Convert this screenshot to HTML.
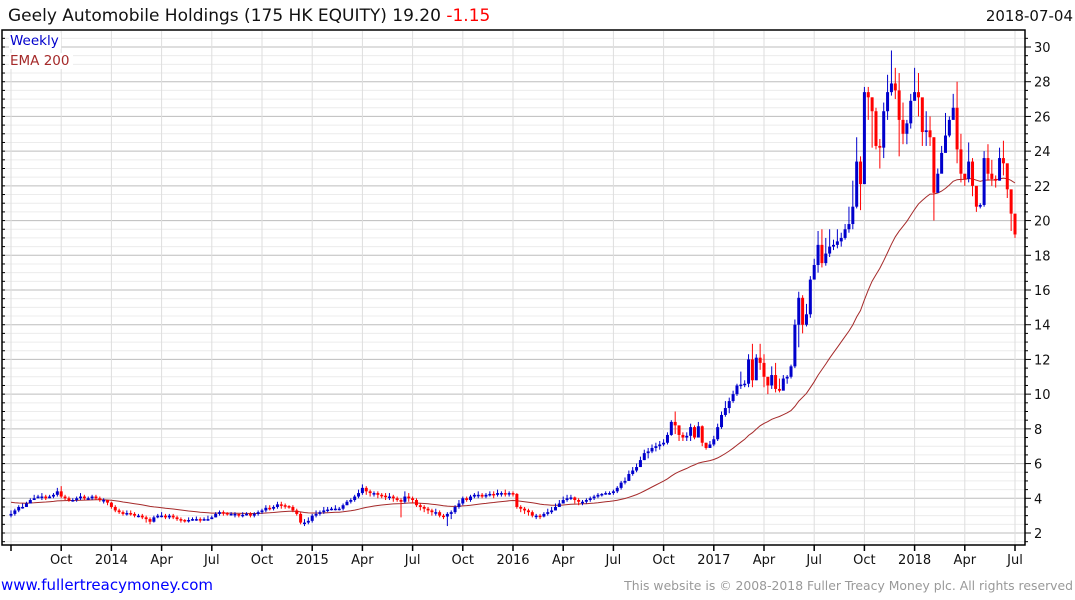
<!DOCTYPE html>
<html><head><meta charset="utf-8"><style>
html,body{margin:0;padding:0;background:#fff;width:1075px;height:600px;overflow:hidden}
svg{display:block;font-family:"DejaVu Sans","Liberation Sans",sans-serif}
</style></head><body>
<svg id="chart" width="1075" height="600">
<text x="8" y="21" font-size="17" fill="#111">Geely Automobile Holdings (175 HK EQUITY) 19.20 <tspan fill="#f00">-1.15</tspan></text>
<text x="1073" y="21" font-size="15" fill="#111" text-anchor="end">2018-07-04</text>
<g id="grid"></g><g id="ema"></g><g id="bars"></g>
<rect x="2" y="30" width="1023" height="515" fill="none" stroke="#000" stroke-width="1.5"/>
<g id="axes"></g>
<rect x="9" y="33" width="52" height="16" fill="#fff"/>
<text x="10" y="45" font-size="13.5" fill="#00c">Weekly</text>
<rect x="9" y="53" width="64" height="16" fill="#fff"/>
<text x="10" y="65" font-size="13.5" fill="#a52a2a">EMA 200</text>
<text x="1" y="590" font-size="15" fill="#00f">www.fullertreacymoney.com</text>
<text x="1073" y="590" font-size="12.4" fill="#999" text-anchor="end">This website is © 2008-2018 Fuller Treacy Money plc. All rights reserved</text>
</svg>
<script>
const closes=[3.1,3.3,3.5,3.5,3.7,3.9,4.0,4.1,4.1,4.0,4.1,4.2,4.4,4.1,
4.0,3.9,3.9,4.0,4.1,4.0,4.0,4.1,4.0,3.9,3.9,3.75,3.5,
3.3,3.2,3.1,3.15,3.1,3.0,3.0,2.9,2.8,2.65,2.9,3.0,3.0,
2.9,3.0,2.9,2.8,2.75,2.7,2.75,2.8,2.8,2.75,2.8,2.8,2.9,
3.1,3.2,3.15,3.1,3.1,3.1,3.0,3.05,3.1,3.0,3.1,3.2,3.3,
3.45,3.4,3.5,3.65,3.6,3.55,3.5,3.3,3.1,2.6,2.6,2.7,3.0,
3.1,3.2,3.3,3.35,3.4,3.4,3.4,3.6,3.8,3.9,4.1,4.3,4.6,
4.4,4.3,4.3,4.2,4.15,4.1,4.1,4.0,3.9,3.8,4.1,4.0,3.9,
3.6,3.5,3.4,3.3,3.2,3.2,3.0,2.95,3.1,3.2,3.5,3.7,4.0,
3.9,4.1,4.2,4.2,4.1,4.2,4.25,4.2,4.3,4.3,4.25,4.3,4.25,
3.5,3.4,3.3,3.2,3.0,3.0,2.95,3.1,3.2,3.3,3.5,3.7,3.9,
4.0,4.05,3.9,3.8,3.8,3.9,4.0,4.1,4.2,4.25,4.3,4.3,4.4,
4.6,4.9,5.0,5.4,5.6,5.8,6.2,6.6,6.7,6.9,7.0,7.1,7.2,
7.65,8.4,8.2,7.65,7.5,7.6,8.1,7.5,8.15,7.2,6.9,7.1,7.4,
8.1,8.8,9.2,9.6,10.0,10.5,10.55,10.6,12.0,10.8,12.1,11.8,11.0,10.5,11.1,10.3,10.2,10.9,11.0,11.6,14.0,15.55,14.0,14.6,16.6,17.44,18.6,17.55,18.1,18.5,18.6,18.8,19.0,19.5,19.8,20.8,
23.4,22.1,27.4,27.1,26.3,24.3,24.2,26.3,27.4,27.9,27.5,25.8,25.0,25.6,26.9,27.4,27.1,25.1,25.2,24.8,21.6,22.7,23.9,24.9,25.8,26.5,24.1,22.7,22.4,23.4,22.0,20.8,20.9,23.6,22.7,22.4,22.3,23.6,23.3,21.8,20.4,19.2];
const highs=[3.3,3.4,3.6,3.7,3.8,4.0,4.2,4.2,4.3,4.2,4.2,4.3,4.6,4.7,
4.2,4.1,4.0,4.1,4.3,4.2,4.1,4.2,4.2,4.1,4.0,3.9,3.8,
3.6,3.4,3.3,3.3,3.3,3.2,3.1,3.1,3.0,2.9,3.0,3.1,3.2,
3.1,3.1,3.1,3.0,2.9,2.8,2.9,2.9,2.95,2.9,2.9,3.0,3.0,
3.2,3.3,3.3,3.2,3.2,3.2,3.1,3.2,3.2,3.2,3.2,3.3,3.4,
3.6,3.6,3.6,3.8,3.8,3.7,3.6,3.6,3.4,3.2,2.8,2.9,3.1,
3.3,3.3,3.5,3.5,3.5,3.6,3.5,3.7,3.9,4.0,4.2,4.5,4.8,
4.7,4.5,4.4,4.4,4.3,4.3,4.3,4.2,4.1,4.0,4.4,4.3,4.1,
4.0,3.7,3.6,3.5,3.4,3.4,3.3,3.1,3.2,3.3,3.6,3.9,4.1,
4.1,4.2,4.3,4.4,4.3,4.3,4.4,4.4,4.5,4.4,4.5,4.4,4.4,
4.3,3.6,3.5,3.4,3.3,3.1,3.1,3.2,3.4,3.5,3.7,3.9,4.1,
4.2,4.2,4.1,4.0,3.9,4.0,4.1,4.2,4.3,4.3,4.4,4.4,4.5,
4.7,5.0,5.2,5.6,5.8,6.0,6.4,6.8,6.9,7.1,7.2,7.3,7.4,
7.8,8.5,9.0,8.2,7.8,7.8,8.3,8.2,8.4,8.2,7.2,7.3,7.6,
8.3,9.0,9.6,9.8,10.2,10.6,11.3,10.8,12.3,12.9,12.3,12.9,12.3,10.9,11.6,11.8,10.9,11.1,11.1,11.7,14.3,15.9,15.7,15.2,16.8,17.8,19.4,19.5,19.0,19.5,18.9,19.5,19.3,19.8,20.8,22.3,
24.8,23.7,27.7,27.7,27.1,26.5,24.7,26.8,28.4,29.8,28.8,28.5,26.8,25.8,27.3,28.8,28.5,27.0,26.3,26.0,24.8,23.0,24.3,26.2,26.0,27.3,28.0,25.0,22.6,24.5,23.6,21.3,21.0,24.0,24.4,23.5,22.6,24.2,24.6,23.0,21.6,20.1];
const lows=[2.9,3.0,3.2,3.4,3.5,3.7,3.9,4.0,3.9,3.9,4.0,4.0,4.1,4.0,
3.9,3.8,3.8,3.8,3.9,3.9,3.9,3.9,3.9,3.8,3.7,3.6,3.4,
3.2,3.1,3.0,3.0,3.0,2.9,2.9,2.8,2.6,2.5,2.6,2.85,2.9,
2.8,2.8,2.8,2.7,2.6,2.6,2.6,2.7,2.7,2.6,2.7,2.7,2.8,
2.9,3.0,3.0,3.0,3.0,2.9,2.9,2.9,3.0,2.9,2.9,3.0,3.1,
3.2,3.3,3.3,3.4,3.4,3.4,3.4,3.2,3.0,2.5,2.4,2.5,2.6,
2.9,3.0,3.1,3.2,3.3,3.3,3.3,3.3,3.6,3.7,3.8,4.0,4.2,
4.2,4.1,4.1,4.0,4.0,3.9,3.9,3.8,3.8,2.9,3.7,3.8,3.7,
3.5,3.3,3.2,3.1,3.0,3.0,2.9,2.8,2.4,2.8,3.1,3.4,3.6,
3.8,3.8,4.0,4.0,4.0,4.0,4.1,4.0,4.1,4.1,4.1,4.1,4.1,
3.4,3.2,3.1,3.0,2.9,2.8,2.8,2.9,3.0,3.1,3.3,3.5,3.7,
3.8,3.9,3.7,3.6,3.6,3.7,3.8,3.9,4.0,4.1,4.2,4.2,4.2,
4.3,4.5,4.8,5.0,5.3,5.5,5.8,6.2,6.3,6.6,6.7,6.8,7.0,
7.1,7.6,7.7,7.3,7.3,7.3,7.3,7.4,7.6,7.0,6.8,6.9,7.0,
7.3,8.0,8.7,8.9,9.5,9.9,10.3,10.4,10.4,10.4,10.8,11.4,10.4,10.0,10.3,10.1,10.1,10.3,10.6,10.9,11.5,12.7,13.5,13.9,14.4,16.8,17.0,17.3,17.4,17.9,18.3,18.4,18.5,18.9,19.3,19.5,
20.7,20.6,22.9,25.8,24.2,24.1,23.0,23.6,25.8,27.2,27.0,23.7,24.4,24.4,25.3,27.0,26.0,24.3,24.3,24.3,20.0,21.9,22.8,24.6,24.8,26.0,23.3,22.2,22.0,22.2,21.4,20.5,20.7,20.8,22.3,22.0,21.9,22.3,22.6,21.3,19.4,19.0];
const firstOpen=3.0;
const emaSeed=3.8;
const xTickLabels=["","Oct","2014","Apr","Jul","Oct","2015","Apr","Jul","Oct","2016","Apr","Jul","Oct","2017","Apr","Jul","Oct","2018","Apr","Jul"];
const xTickWeeks=[0,13,26,39,52,65,78,91,104,117,130,143,156,169,182,195,208,221,234,247,260];
const yTicks=[2,4,6,8,10,12,14,16,18,20,22,24,26,28,30];

const NS="http://www.w3.org/2000/svg";
const X0=11,X1=1015,Y2=533,Y30=47;
const n=closes.length;
function xs(i){return X0+i*(X1-X0)/(260);}
function ys(v){return Y2-(v-2)*(Y2-Y30)/28;}
function mk(tag,attrs,parent){const e=document.createElementNS(NS,tag);for(const k in attrs)e.setAttribute(k,attrs[k]);parent.appendChild(e);return e;}
const grid=document.getElementById('grid'),axes=document.getElementById('axes'),bars=document.getElementById('bars'),emaG=document.getElementById('ema');
for(let v=1.5;v<=31;v+=0.5){const y=ys(v);if(y<31||y>544)continue;const major=Math.abs(v%2)<1e-9;
 const l=mk('line',{x1:2,x2:1025,y1:y,y2:y,stroke:major?'#bdbdbd':'#ececec','stroke-width':1},grid);
 
 
 const t=mk('line',{x1:1025,x2:major?1031:1028,y1:y,y2:y,stroke:'#000'},axes);
 
 
 const t2=mk('line',{x1:2,x2:5,y1:y,y2:y,stroke:'#000'},axes);
 
 }
yTicks.forEach(v=>{const t=mk('text',{x:1034,y:ys(v)+5,'font-size':13,fill:'#111'},axes);t.textContent=v;
 
 });
xTickWeeks.forEach((w,k)=>{const x=xs(w);
 const g=mk('line',{x1:x,x2:x,y1:31,y2:545,stroke:'#dedede'},grid);
 
 
 const t=mk('line',{x1:x,x2:x,y1:545,y2:551,stroke:'#000','stroke-width':1.5},axes);
 
 
 if(xTickLabels[k]){const tx=mk('text',{x:x,y:564,'font-size':13,fill:'#111','text-anchor':'middle'},axes);tx.textContent=xTickLabels[k];
 
 }});
let e=emaSeed,pts=[];const a=2/41;
for(let i=0;i<n;i++){e=closes[i]*a+e*(1-a);pts.push(xs(i).toFixed(1)+','+ys(e).toFixed(1));}
const pl=mk('polyline',{points:pts.join(' '),fill:'none',stroke:'#a52a2a','stroke-width':1},emaG);


for(let i=0;i<n;i++){const o=i?closes[i-1]:firstOpen,c=closes[i];const up=c>=o;const col=up?'#0000cc':'#ff0000';const x=xs(i);
 const w=mk('line',{x1:x,x2:x,y1:ys(highs[i]),y2:ys(lows[i]),stroke:col,'stroke-width':1},bars);
 
 
 const top=ys(Math.max(o,c)),bot=ys(Math.min(o,c));
 const r=mk('rect',{x:x-1.5,y:top,width:3,height:Math.max(1.5,bot-top),fill:col},bars);
 
 }
</script>
</body></html>
